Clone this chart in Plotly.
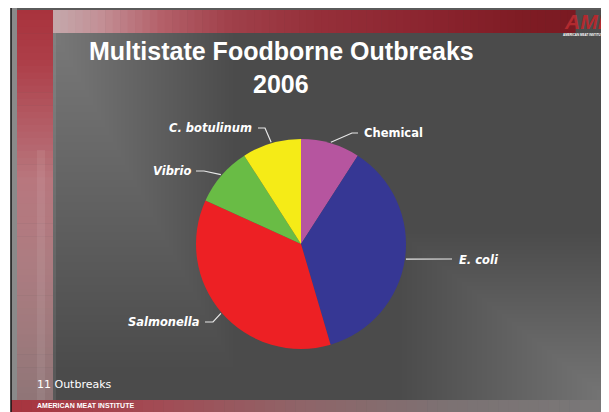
import math
import plotly.graph_objects as go

W, H = 609, 412
OFF = 8  # page body margin: window pixel = figure pixel + 8

# ---- data ----
categories = ["Chemical", "E. coli", "Salmonella", "Vibrio", "C. botulinum"]
outbreaks = [1, 4, 4, 1, 1]
colors = ["#b6559f", "#363794", "#ed2024", "#69bc45", "#f5eb17"]
label_italic = [False, True, True, True, True]

title_lines = ["Multistate Foodborne Outbreaks", "2006"]
footnote = "11 Outbreaks"
footer = "AMERICAN MEAT INSTITUTE"

# pie geometry (window pixels)
CX, CY, R = 301, 244, 105


def px(x):
    return (x - OFF) / W


def py(y):
    return 1 - (y - OFF) / H


def hexrgb(h):
    h = h.lstrip("#")
    return tuple(int(h[i:i + 2], 16) for i in (0, 2, 4))


def interp(stops, t):
    for (a, ca), (b, cb) in zip(stops[:-1], stops[1:]):
        if a <= t <= b:
            f = (t - a) / (b - a) if b > a else 0
            r1, r2 = hexrgb(ca), hexrgb(cb)
            return "rgb(%d,%d,%d)" % tuple(round(u + (v - u) * f) for u, v in zip(r1, r2))
    return stops[-1][1] if t > stops[-1][0] else stops[0][1]


shapes = []
annotations = []


def rect(x0, x1, y0, y1, color):
    shapes.append(dict(type="rect", xref="paper", yref="paper", x0=px(x0), x1=px(x1),
                       y0=py(y1), y1=py(y0), fillcolor=color, line=dict(width=0), layer="below"))


def hgrad(x0, x1, y0, y1, stops, n):
    w = (x1 - x0) / n
    for i in range(n):
        xa = x0 + i * w
        rect(xa, xa + w + 0.6, y0, y1, interp(stops, xa + w / 2))


def vgrad(x0, x1, y0, y1, stops, n):
    h = (y1 - y0) / n
    for i in range(n):
        ya = y0 + i * h
        rect(x0, x1, ya, ya + h + 0.6, interp(stops, ya + h / 2))


fig = go.Figure()
fig.add_trace(go.Pie(
    labels=categories,
    values=outbreaks,
    marker=dict(colors=colors, line=dict(width=0)),
    sort=False,
    direction="clockwise",
    rotation=0,
    textinfo="none",
    hoverinfo="label+value",
    showlegend=False,
    domain=dict(x=[px(CX - R), px(CX + R)], y=[py(CY + R), py(CY - R)]),
))

# ---- slide background ----
rect(11, 620, 7, 420, "#4b4b4b")
# top-left glow
for i in range(44):
    rect(53, 53 + 8 + i * 4, 33, 33 + 12 + i * 7.5, "rgba(255,255,255,0.0065)")
# bottom-right glow
for i in range(40):
    rect(609 - 12 - i * 5, 620, 400 - 10 - i * 4, 400, "rgba(255,255,255,0.006)")
rect(53, 56, 33, 400, "rgba(255,255,255,0.08)")

# left stripe
rect(11, 17, 7, 400, "#8a8a8a")
vgrad(17, 53, 7, 400, [(7, "#a8323c"), (60, "#ad3e48"), (120, "#b35a63"), (180, "#b8777e"),
                       (260, "#ad7c81"), (330, "#a07a7d"), (400, "#8f7577")], 60)
rect(37, 45, 150, 400, "rgba(255,255,255,0.07)")

# top banner
rect(17, 620, 7, 10, "#5a5a5a")
hgrad(53, 575, 10, 33, [(53, "#c4a9ac"), (100, "#c39096"), (160, "#b4616a"), (230, "#a0404a"),
                        (320, "#952f39"), (420, "#8c2530"), (520, "#7f1c24"), (575, "#7a1a22")], 70)

# bottom band
hgrad(11, 620, 400, 420, [(11, "#a8343e"), (150, "#a34a53"), (300, "#8f6468"), (450, "#7c7273"),
                          (620, "#787878")], 60)

# black frame lines
shapes.append(dict(type="line", xref="paper", yref="paper", x0=px(11), x1=px(620), y0=py(7), y1=py(7),
                   line=dict(color="#111111", width=1.5)))
shapes.append(dict(type="line", xref="paper", yref="paper", x0=px(11), x1=px(11), y0=py(420), y1=py(7),
                   line=dict(color="#111111", width=1.5)))

# ---- leader lines and labels (anchors from slice mid-angles) ----
total = sum(outbreaks)
cum = 0
label_pos = {
    "Chemical": (362, 133, "left", [(358, 133), (352, 133)]),
    "E. coli": (457, 260, "left", [(452, 259)]),
    "Salmonella": (202, 322, "right", [(205, 322), (213, 322)]),
    "Vibrio": (193, 171, "right", [(196, 171), (204, 171)]),
    "C. botulinum": (254, 128, "right", [(258, 128), (265, 128)]),
}
for cat, v, ital in zip(categories, outbreaks, label_italic):
    mid = (cum + v / 2) / total * 2 * math.pi
    cum += v
    ax = CX + (R + 1) * math.sin(mid)
    ay = CY - (R + 1) * math.cos(mid)
    tx, ty, anchor, pts = label_pos[cat]
    path_pts = pts + [(ax, ay)]
    d = "M %f %f " % (px(path_pts[0][0]), py(path_pts[0][1]))
    for (x, y) in path_pts[1:]:
        d += "L %f %f " % (px(x), py(y))
    shapes.append(dict(type="path", xref="paper", yref="paper", path=d,
                       line=dict(color="#e8e8e8", width=1.2)))
    txt = "<b><i>%s</i></b>" % cat if ital else "<b>%s</b>" % cat
    annotations.append(dict(x=px(tx), y=py(ty), xref="paper", yref="paper", text=txt,
                            showarrow=False, xanchor=anchor, yanchor="middle",
                            font=dict(family="DejaVu Sans", size=11.5, color="white")))

# ---- titles / texts ----
for line, yy in zip(title_lines, [51, 84]):
    annotations.append(dict(x=px(281), y=py(yy), xref="paper", yref="paper", text="<b>%s</b>" % line,
                            showarrow=False, xanchor="center", yanchor="middle",
                            font=dict(family="Liberation Sans, Arial", size=25, color="white")))
annotations.append(dict(x=px(35), y=py(384), xref="paper", yref="paper", text=footnote,
                        showarrow=False, xanchor="left", yanchor="middle",
                        font=dict(family="DejaVu Sans", size=11, color="white")))
annotations.append(dict(x=px(35), y=py(405.5), xref="paper", yref="paper", text="<b>%s</b>" % footer,
                        showarrow=False, xanchor="left", yanchor="middle",
                        font=dict(family="Liberation Sans, Arial", size=7, color="white")))
# logo
annotations.append(dict(x=px(607), y=py(22), xref="paper", yref="paper", text="<b><i>AMI</i></b>",
                        showarrow=False, xanchor="right", yanchor="middle",
                        font=dict(family="Liberation Sans, Arial", size=21, color="#b22a2f")))
annotations.append(dict(x=px(607), y=py(35), xref="paper", yref="paper", text="<b>AMERICAN MEAT INSTITUTE</b>",
                        showarrow=False, xanchor="right", yanchor="middle",
                        font=dict(family="Liberation Sans, Arial", size=3, color="white")))

fig.update_layout(
    width=W, height=H,
    margin=dict(l=0, r=0, t=0, b=0),
    paper_bgcolor="white",
    plot_bgcolor="white",
    shapes=shapes,
    annotations=annotations,
    showlegend=False,
)

fig.write_html("out.html")
